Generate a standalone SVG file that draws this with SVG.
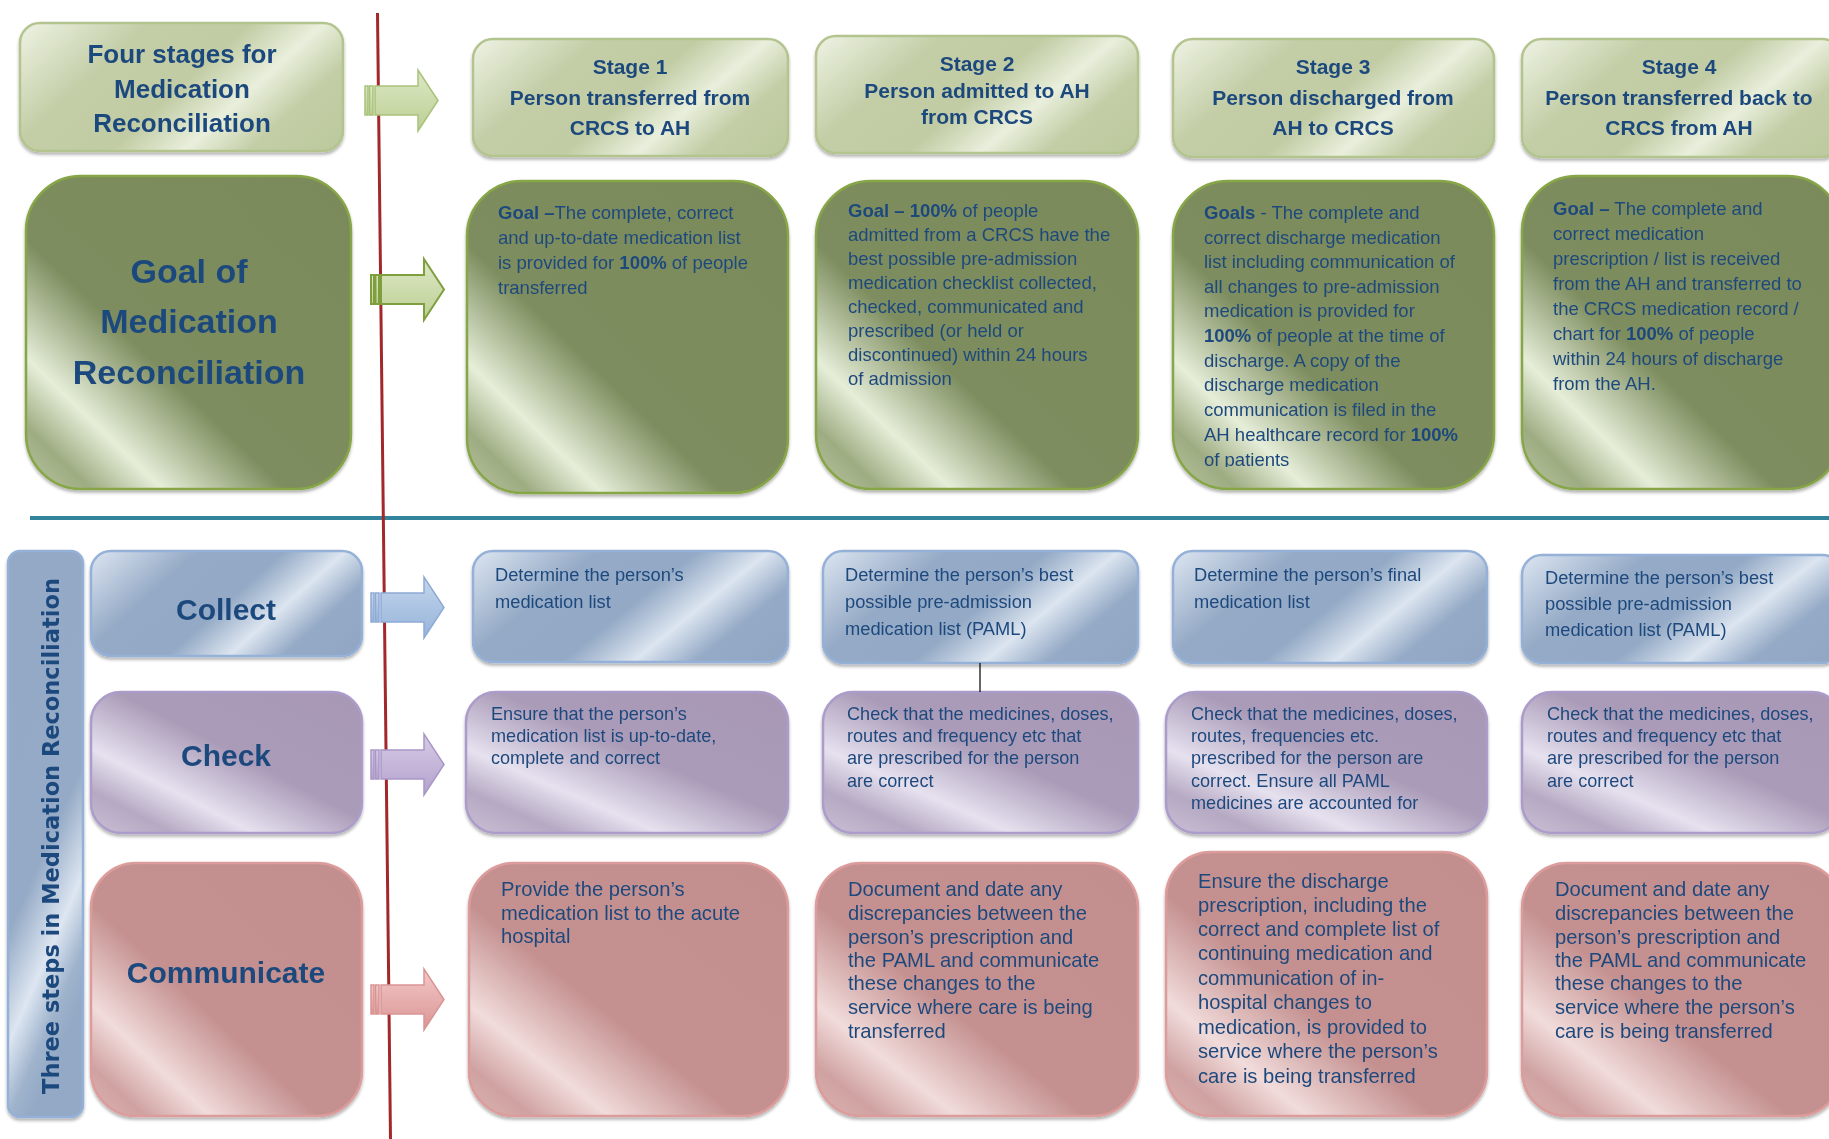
<svg xmlns="http://www.w3.org/2000/svg" width="1829" height="1139" viewBox="0 0 1829 1139">
<style>
.hd{font-family:"Liberation Sans",Arial,sans-serif;font-weight:bold;fill:#1f497d;text-anchor:middle}
.t{font-family:"Liberation Sans",Arial,sans-serif;fill:#1f497d;font-size:18.5px}
.c{font-family:"Liberation Sans",Arial,sans-serif;fill:#1f497d;font-size:18.3px}
.o{font-family:"Liberation Sans",Arial,sans-serif;fill:#1f497d;font-size:18.1px}
.p{font-family:"Liberation Sans",Arial,sans-serif;fill:#1f497d;font-size:20.2px}
.b{font-weight:bold}
.gh{fill:url(#gHead);stroke:#b3c48f;stroke-width:2.5}
.gg{fill:url(#gGoal);stroke:#87a646;stroke-width:2.5}
.bc{fill:url(#gBlue);stroke:#95b1d8;stroke-width:2.5}
.pc{fill:url(#gPurp);stroke:#ab9cc9;stroke-width:2.5}
.rc{fill:url(#gPink);stroke:#dc9c9b;stroke-width:2.5}
.box{filter:url(#sh)}
</style>
<defs>
<filter id="sh" x="-5%" y="-5%" width="110%" height="115%">
<feDropShadow dx="0" dy="2.5" stdDeviation="1.5" flood-color="#000" flood-opacity="0.3"/>
</filter>
<linearGradient id="gHead" x1="0" y1="0" x2="1.2" y2="0.52">
<stop offset="0" stop-color="#eef3e4"/><stop offset="0.28" stop-color="#c3cea7"/><stop offset="0.5" stop-color="#c1cca4"/><stop offset="0.66" stop-color="#e9efdc"/><stop offset="0.8" stop-color="#c3cea7"/><stop offset="1" stop-color="#bcc89d"/>
</linearGradient>
<linearGradient id="gGoal" x1="1" y1="0" x2="0" y2="1">
<stop offset="0" stop-color="#7a8a5a"/><stop offset="0.6" stop-color="#7d8d5e"/><stop offset="0.79" stop-color="#e6eed9"/><stop offset="0.9" stop-color="#9eac82"/><stop offset="1" stop-color="#b9c5a1"/>
</linearGradient>
<linearGradient id="gBlue" x1="0" y1="0" x2="1.2" y2="0.52">
<stop offset="0" stop-color="#dde6f1"/><stop offset="0.28" stop-color="#95aac6"/><stop offset="0.5" stop-color="#93a9c5"/><stop offset="0.66" stop-color="#dce5f0"/><stop offset="0.8" stop-color="#95aac6"/><stop offset="1" stop-color="#90a6c3"/>
</linearGradient>
<linearGradient id="gSide" x1="0" y1="0" x2="0.3" y2="1">
<stop offset="0" stop-color="#93a9c5"/><stop offset="0.62" stop-color="#95aac6"/><stop offset="0.8" stop-color="#dde6f1"/><stop offset="0.92" stop-color="#9fb3cc"/><stop offset="1" stop-color="#93a9c5"/>
</linearGradient>
<linearGradient id="gPurp" x1="1" y1="0" x2="0" y2="1">
<stop offset="0" stop-color="#a898b6"/><stop offset="0.45" stop-color="#aa9bb8"/><stop offset="0.7" stop-color="#e6e1ef"/><stop offset="0.85" stop-color="#b6a9c3"/><stop offset="1" stop-color="#c9bfd6"/>
</linearGradient>
<linearGradient id="gPink" x1="1" y1="0" x2="0" y2="1">
<stop offset="0" stop-color="#c38f8e"/><stop offset="0.58" stop-color="#c49190"/><stop offset="0.78" stop-color="#f1dcdb"/><stop offset="0.9" stop-color="#cfa2a1"/><stop offset="1" stop-color="#dbb4b3"/>
</linearGradient>
<linearGradient id="aGreen" x1="0" y1="0" x2="0" y2="1">
<stop offset="0" stop-color="#dde8c6"/><stop offset="1" stop-color="#bccf93"/>
</linearGradient>
<linearGradient id="aBlue" x1="0" y1="0" x2="0" y2="1">
<stop offset="0" stop-color="#c4d6ec"/><stop offset="1" stop-color="#95b3da"/>
</linearGradient>
<linearGradient id="aPurp" x1="0" y1="0" x2="0" y2="1">
<stop offset="0" stop-color="#d8cce6"/><stop offset="1" stop-color="#b2a1cc"/>
</linearGradient>
<linearGradient id="aPink" x1="0" y1="0" x2="0" y2="1">
<stop offset="0" stop-color="#f3c8c8"/><stop offset="1" stop-color="#da9494"/>
</linearGradient>
<g id="arr">
<rect x="0" y="16" width="3" height="29"/>
<rect x="4.5" y="16" width="3.5" height="29"/>
<path d="M10,16 H53 V0 L73,30.5 L53,61 V45 H10 Z"/>
</g>
<clipPath id="clip3"><rect x="1173" y="181" width="321" height="286"/></clipPath>
</defs>

<g id="dividers">
<line x1="30" y1="518" x2="1829" y2="518" stroke="#31849b" stroke-width="4"/>
</g>

<!-- header row -->
<g id="four-stages" class="box">
<rect class="gh" x="20" y="23" width="323" height="128" rx="20"/>
<text class="hd" font-size="26" x="182"><tspan x="182" y="63">Four stages for</tspan><tspan x="182" y="98">Medication</tspan><tspan x="182" y="132">Reconciliation</tspan></text>
</g>
<g id="stage1" class="box">
<rect class="gh" x="473" y="39" width="315" height="117" rx="20"/>
<text class="hd" font-size="21"><tspan x="630" y="74">Stage 1</tspan><tspan x="630" y="105">Person transferred from</tspan><tspan x="630" y="135">CRCS to AH</tspan></text>
</g>
<g id="stage2" class="box">
<rect class="gh" x="816" y="36" width="322" height="117" rx="20"/>
<text class="hd" font-size="21"><tspan x="977" y="71">Stage 2</tspan><tspan x="977" y="98">Person admitted to AH</tspan><tspan x="977" y="124">from CRCS</tspan></text>
</g>
<g id="stage3" class="box">
<rect class="gh" x="1173" y="39" width="321" height="118" rx="20"/>
<text class="hd" font-size="21"><tspan x="1333" y="74">Stage 3</tspan><tspan x="1333" y="105">Person discharged from</tspan><tspan x="1333" y="135">AH to CRCS</tspan></text>
</g>
<g id="stage4" class="box">
<rect class="gh" x="1522" y="39" width="320" height="118" rx="20"/>
<text class="hd" font-size="21"><tspan x="1679" y="74">Stage 4</tspan><tspan x="1679" y="105">Person transferred back to</tspan><tspan x="1679" y="135">CRCS from AH</tspan></text>
</g>

<!-- goal row -->
<g id="goal-title" class="box">
<rect class="gg" x="26" y="176" width="325" height="313" rx="55"/>
<text class="hd" font-size="34"><tspan x="189" y="283">Goal of</tspan><tspan x="189" y="333">Medication</tspan><tspan x="189" y="384">Reconciliation</tspan></text>
</g>
<g id="goal1" class="box">
<rect class="gg" x="467" y="181" width="321" height="312" rx="55"/>
<text class="t"><tspan x="498" y="219"><tspan class="b">Goal –</tspan>The complete, correct</tspan><tspan x="498" y="244">and up-to-date medication list</tspan><tspan x="498" y="269">is provided for <tspan class="b">100%</tspan> of people</tspan><tspan x="498" y="294">transferred</tspan></text>
</g>
<g id="goal2" class="box">
<rect class="gg" x="816" y="181" width="322" height="308" rx="55"/>
<text class="t"><tspan x="848" y="217"><tspan class="b">Goal – 100%</tspan> of people</tspan><tspan x="848" y="241">admitted from a CRCS have the</tspan><tspan x="848" y="265">best possible pre-admission</tspan><tspan x="848" y="289">medication checklist collected,</tspan><tspan x="848" y="313">checked, communicated and</tspan><tspan x="848" y="337">prescribed (or held or</tspan><tspan x="848" y="361">discontinued) within 24 hours</tspan><tspan x="848" y="385">of admission</tspan></text>
</g>
<g id="goal3" class="box">
<rect class="gg" x="1173" y="181" width="321" height="308" rx="55"/>
<text class="t" clip-path="url(#clip3)"><tspan x="1204" y="219"><tspan class="b">Goals</tspan> - The complete and</tspan><tspan x="1204" y="244">correct discharge medication</tspan><tspan x="1204" y="268">list including communication of</tspan><tspan x="1204" y="293">all changes to pre-admission</tspan><tspan x="1204" y="317">medication is provided for</tspan><tspan x="1204" y="342"><tspan class="b">100%</tspan> of people at the time of</tspan><tspan x="1204" y="367">discharge.  A copy of the</tspan><tspan x="1204" y="391">discharge medication</tspan><tspan x="1204" y="416">communication is filed in the</tspan><tspan x="1204" y="441">AH healthcare record for <tspan class="b">100%</tspan></tspan><tspan x="1204" y="466">of patients</tspan></text>
</g>
<g id="goal4" class="box">
<rect class="gg" x="1522" y="176" width="320" height="313" rx="55"/>
<text class="t"><tspan x="1553" y="215"><tspan class="b">Goal –</tspan> The complete and</tspan><tspan x="1553" y="240">correct medication</tspan><tspan x="1553" y="265">prescription / list is received</tspan><tspan x="1553" y="290">from the AH and transferred to</tspan><tspan x="1553" y="315">the CRCS medication record /</tspan><tspan x="1553" y="340">chart for <tspan class="b">100%</tspan> of people</tspan><tspan x="1553" y="365">within 24 hours of discharge</tspan><tspan x="1553" y="390">from the AH.</tspan></text>
</g>

<!-- three steps side label -->
<g id="three-steps" class="box">
<rect x="8" y="551" width="75" height="566" rx="12" fill="url(#gSide)" stroke="#95b1d8" stroke-width="2.5"/>
<text transform="translate(59,836) rotate(-90)" x="0" y="0" text-anchor="middle" font-family="'DejaVu Sans',Verdana,sans-serif" font-weight="bold" font-size="22.5" fill="#1f497d">Three steps in Medication Reconciliation</text>
</g>

<!-- collect row -->
<g id="collect" class="box">
<rect class="bc" x="91" y="551" width="271" height="105" rx="20"/>
<text class="hd" font-size="30" x="226" y="620">Collect</text>
</g>
<g id="collect1" class="box">
<rect class="bc" x="473" y="551" width="315" height="111" rx="20"/>
<text class="c"><tspan x="495" y="581">Determine the person’s</tspan><tspan x="495" y="608">medication list</tspan></text>
</g>
<g id="collect2" class="box">
<rect class="bc" x="823" y="551" width="315" height="112" rx="20"/>
<text class="c"><tspan x="845" y="581">Determine the person’s best</tspan><tspan x="845" y="608">possible pre-admission</tspan><tspan x="845" y="635">medication list (PAML)</tspan></text>
</g>
<g id="collect3" class="box">
<rect class="bc" x="1173" y="551" width="314" height="112" rx="20"/>
<text class="c"><tspan x="1194" y="581">Determine the person’s final</tspan><tspan x="1194" y="608">medication list</tspan></text>
</g>
<g id="collect4" class="box">
<rect class="bc" x="1522" y="555" width="320" height="108" rx="20"/>
<text class="c"><tspan x="1545" y="584">Determine the person’s best</tspan><tspan x="1545" y="610">possible pre-admission</tspan><tspan x="1545" y="636">medication list (PAML)</tspan></text>
</g>

<!-- check row -->
<g id="check" class="box">
<rect class="pc" x="91" y="692" width="271" height="141" rx="30"/>
<text class="hd" font-size="30" x="226" y="766">Check</text>
</g>
<g id="check1" class="box">
<rect class="pc" x="466" y="692" width="322" height="141" rx="30"/>
<text class="o"><tspan x="491" y="720">Ensure that the person’s</tspan><tspan x="491" y="742">medication list is up-to-date,</tspan><tspan x="491" y="764">complete and correct</tspan></text>
</g>
<g id="check2" class="box">
<rect class="pc" x="823" y="692" width="315" height="141" rx="30"/>
<text class="o"><tspan x="847" y="720">Check that the medicines, doses,</tspan><tspan x="847" y="742">routes and frequency etc that</tspan><tspan x="847" y="764">are prescribed for the person</tspan><tspan x="847" y="787">are correct</tspan></text>
</g>
<g id="check3" class="box">
<rect class="pc" x="1166" y="692" width="321" height="141" rx="30"/>
<text class="o"><tspan x="1191" y="720">Check that the medicines, doses,</tspan><tspan x="1191" y="742">routes, frequencies etc.</tspan><tspan x="1191" y="764">prescribed for the person are</tspan><tspan x="1191" y="787">correct. Ensure all PAML</tspan><tspan x="1191" y="809">medicines are accounted for</tspan></text>
</g>
<g id="check4" class="box">
<rect class="pc" x="1522" y="692" width="320" height="141" rx="30"/>
<text class="o"><tspan x="1547" y="720">Check that the medicines, doses,</tspan><tspan x="1547" y="742">routes and frequency etc that</tspan><tspan x="1547" y="764">are prescribed for the person</tspan><tspan x="1547" y="787">are correct</tspan></text>
</g>

<!-- communicate row -->
<g id="communicate" class="box">
<rect class="rc" x="91" y="863" width="271" height="253" rx="45"/>
<text class="hd" font-size="30" x="226" y="983">Communicate</text>
</g>
<g id="comm1" class="box">
<rect class="rc" x="469" y="863" width="319" height="253" rx="45"/>
<text class="p"><tspan x="501" y="896">Provide the person’s</tspan><tspan x="501" y="920">medication list to the acute</tspan><tspan x="501" y="943">hospital</tspan></text>
</g>
<g id="comm2" class="box">
<rect class="rc" x="816" y="863" width="322" height="253" rx="45"/>
<text class="p"><tspan x="848" y="896">Document and date any</tspan><tspan x="848" y="920">discrepancies between the</tspan><tspan x="848" y="944">person’s prescription and</tspan><tspan x="848" y="967">the PAML and communicate</tspan><tspan x="848" y="990">these changes to the</tspan><tspan x="848" y="1014">service where care is being</tspan><tspan x="848" y="1038">transferred</tspan></text>
</g>
<g id="comm3" class="box">
<rect class="rc" x="1166" y="852" width="321" height="264" rx="45"/>
<text class="p"><tspan x="1198" y="888">Ensure the discharge</tspan><tspan x="1198" y="912">prescription, including the</tspan><tspan x="1198" y="936">correct and complete list of</tspan><tspan x="1198" y="960">continuing medication and</tspan><tspan x="1198" y="985">communication of in-</tspan><tspan x="1198" y="1009">hospital changes to</tspan><tspan x="1198" y="1034">medication, is provided to</tspan><tspan x="1198" y="1058">service where the person’s</tspan><tspan x="1198" y="1083">care is being transferred</tspan></text>
</g>
<g id="comm4" class="box">
<rect class="rc" x="1522" y="863" width="320" height="253" rx="45"/>
<text class="p"><tspan x="1555" y="896">Document and date any</tspan><tspan x="1555" y="920">discrepancies between the</tspan><tspan x="1555" y="944">person’s prescription and</tspan><tspan x="1555" y="967">the PAML and communicate</tspan><tspan x="1555" y="990">these changes to the</tspan><tspan x="1555" y="1014">service where the person’s</tspan><tspan x="1555" y="1038">care is being transferred</tspan></text>
</g>

<!-- connectors -->
<g id="connectors">
<line x1="377.5" y1="13" x2="390.5" y2="1139" stroke="#a3282b" stroke-width="3"/>
<line x1="980" y1="663" x2="980" y2="692" stroke="#000" stroke-width="1.2"/>
<use href="#arr" transform="translate(365,70)" fill="url(#aGreen)" stroke="#a9c27a" stroke-width="1.5"/>
<use href="#arr" transform="translate(371,259)" fill="url(#aGreen)" stroke="#7f9f3f" stroke-width="2"/>
<use href="#arr" transform="translate(371,577)" fill="url(#aBlue)" stroke="#8eabd6" stroke-width="1.5"/>
<use href="#arr" transform="translate(371,734)" fill="url(#aPurp)" stroke="#a997c7" stroke-width="1.5"/>
<use href="#arr" transform="translate(371,969)" fill="url(#aPink)" stroke="#d99594" stroke-width="1.5"/>
</g>
</svg>
